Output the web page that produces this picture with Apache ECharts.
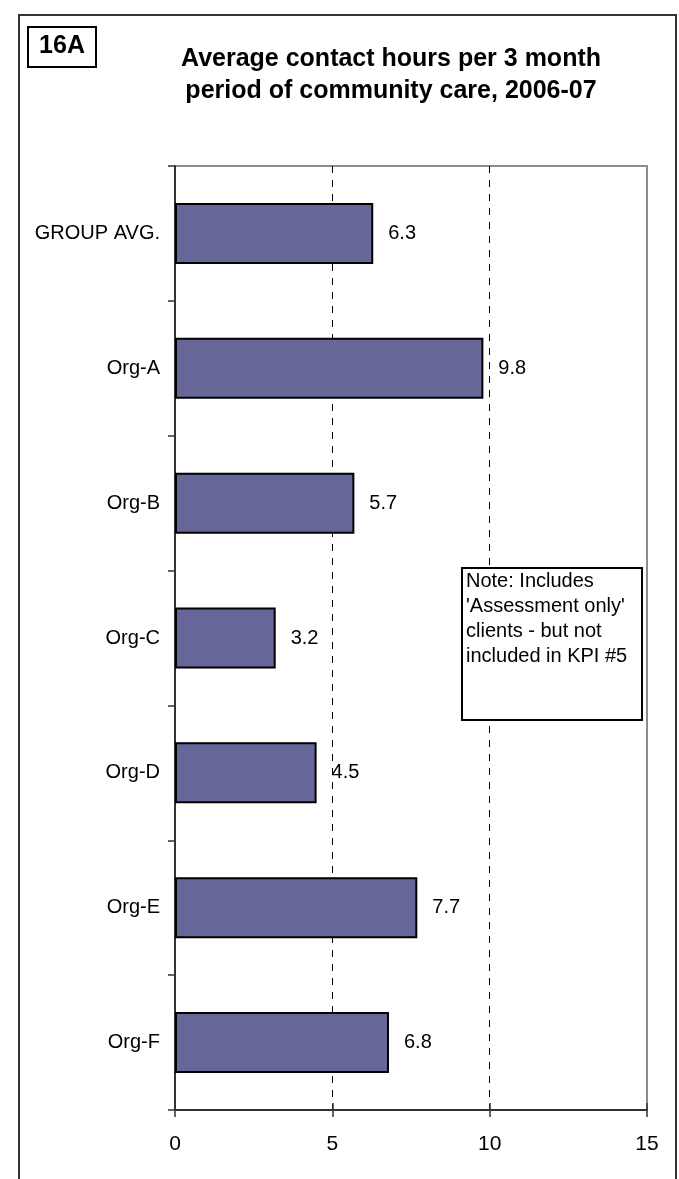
<!DOCTYPE html>
<html>
<head>
<meta charset="utf-8">
<script src="https://cdn.jsdelivr.net/npm/echarts@6/dist/echarts.min.js"></script>
<style>
html,body{margin:0;padding:0;background:#fff;}
#c{width:679px;height:1179px;}
</style>
</head>
<body>
<div id="c"></div>
<script>
var categories = ['GROUP AVG.', 'Org-A', 'Org-B', 'Org-C', 'Org-D', 'Org-E', 'Org-F'];
var values = [6.3, 9.8, 5.7, 3.2, 4.5, 7.7, 6.8];
var xMin = 0, xMax = 15, xInterval = 5;
var titleLines = ['Average contact hours per 3 month', 'period of community care, 2006-07'];
var tagText = '16A';
var noteLines = ['Note: Includes', "'Assessment only'", 'clients - but not', 'included in KPI #5'];

var FONT = '"Liberation Sans", Arial, sans-serif';
var chart = echarts.init(document.getElementById('c'), null, {renderer: 'canvas'});

var option = {
  animation: false,
  backgroundColor: '#fff',
  textStyle: {fontFamily: FONT},
  grid: {
    left: 175, top: 166, right: 32, bottom: 69,
    show: true, borderColor: '#8c8c8c', borderWidth: 2, backgroundColor: 'transparent'
  },
  xAxis: [{
    type: 'value', min: xMin, max: xMax, interval: xInterval, position: 'bottom',
    axisLine: {show: true, lineStyle: {color: '#333', width: 2}},
    axisTick: {show: true, inside: false, length: 7, lineStyle: {color: '#333', width: 1.5}},
    axisLabel: {show: true, margin: 24, fontSize: 21, color: '#000', fontFamily: FONT},
    splitLine: {show: true, showMinLine: false, showMaxLine: false,
      lineStyle: {color: '#000', width: 1, type: [7, 7]}}
  }, {
    type: 'value', min: xMin, max: xMax, interval: xInterval, position: 'bottom',
    axisLine: {show: false},
    axisTick: {show: true, inside: true, length: 7, lineStyle: {color: '#333', width: 1.5}},
    axisLabel: {show: false},
    splitLine: {show: false}
  }],
  yAxis: {
    type: 'category', data: categories, inverse: true,
    axisLine: {show: true, lineStyle: {color: '#333', width: 2}},
    axisTick: {show: true, inside: false, length: 7, lineStyle: {color: '#333', width: 1.5}},
    axisLabel: {margin: 15, fontSize: 20, color: '#000', fontFamily: FONT},
    splitLine: {show: false}
  },
  series: [{
    type: 'bar', xAxisIndex: 0, data: values, barWidth: 61,
    itemStyle: {color: '#666699', borderColor: '#000', borderWidth: 2},
    label: {show: true, position: 'right', distance: 15, fontSize: 20, color: '#000', fontFamily: FONT,
      formatter: function (p) { return p.value.toFixed(1); }}
  }],
  graphic: [
    {type: 'rect', shape: {x: 19, y: 15, width: 657, height: 1185},
      style: {fill: 'none', stroke: '#333', lineWidth: 2}, z: 100, silent: true},
    {type: 'rect', shape: {x: 28, y: 27, width: 68, height: 40},
      style: {fill: '#fff', stroke: '#000', lineWidth: 2}, z: 100},
    {type: 'text', x: 62, y: 46, z: 101,
      style: {text: tagText, font: 'bold 25px ' + FONT, fill: '#000', textAlign: 'center', textVerticalAlign: 'middle'}},
    {type: 'text', x: 391, y: 59, z: 101,
      style: {text: titleLines[0], font: 'bold 25px ' + FONT, fill: '#000', textAlign: 'center', textVerticalAlign: 'middle'}},
    {type: 'text', x: 391, y: 91, z: 101,
      style: {text: titleLines[1], font: 'bold 25px ' + FONT, fill: '#000', textAlign: 'center', textVerticalAlign: 'middle'}},
    {type: 'rect', shape: {x: 462, y: 568, width: 180, height: 152},
      style: {fill: '#fff', stroke: '#000', lineWidth: 2}, z: 100},
    {type: 'text', x: 466, y: 569, z: 101,
      style: {text: noteLines.join('\n'), font: '20px ' + FONT, lineHeight: 25, fill: '#000', textAlign: 'left', textVerticalAlign: 'top'}}
  ]
};
chart.setOption(option);
</script>
</body>
</html>
